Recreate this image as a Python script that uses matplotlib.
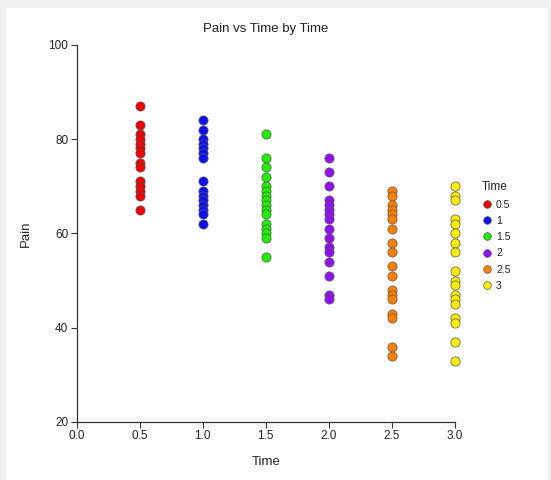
import matplotlib
matplotlib.use("Agg")
import matplotlib.pyplot as plt
from matplotlib.lines import Line2D
from matplotlib.patches import Rectangle

plt.rcParams['font.family'] = ['Liberation Sans', 'DejaVu Sans']

groups = ["0.5", "1", "1.5", "2", "2.5", "3"]
times = [0.5, 1.0, 1.5, 2.0, 2.5, 3.0]
colors = ["#ee0000", "#1010ee", "#22ee00", "#9010f0", "#ff8000", "#ffee00"]

pain_05 = [87, 83, 81, 80, 79, 78, 77, 75, 74, 71, 70, 69, 68, 65]
pain_10 = [84, 82, 80, 79, 78, 77, 76, 71, 69, 68, 67, 66, 65, 64, 62]
pain_15 = [81, 76, 74, 72, 70, 69, 68, 67, 66, 65, 64, 62, 61, 60, 59, 55]
pain_20 = [76, 73, 70, 67, 66, 65, 64, 63, 61, 59, 57, 56, 54, 51, 47, 46]
pain_25 = [69, 68, 66, 65, 64, 63, 61, 58, 56, 53, 51, 48, 47, 46, 43, 42, 36, 34]
pain_30 = [70, 68, 67, 63, 62, 60, 58, 56, 52, 50, 49, 47, 46, 45, 42, 41, 37, 33]
pain_series = [pain_05, pain_10, pain_15, pain_20, pain_25, pain_30]

fig = plt.figure(figsize=(5.51, 4.80), dpi=100)
fig.patch.set_facecolor("#f0f0f0")
bg = Rectangle((6/551, 0), 1 - 9/551, 1 - 8/480, transform=fig.transFigure,
               facecolor="white", edgecolor="none", zorder=-10)
fig.add_artist(bg)

ax = fig.add_axes([76.5/551, 1 - 422/480, (455 - 76.5)/551, (422 - 44.7)/480])
ax.set_zorder(2)
ax.set_facecolor("none")

for t, vals, c in zip(times, pain_series, colors):
    ax.scatter([t] * len(vals), vals, s=44, c=c, edgecolors="#555555",
               linewidths=0.5, zorder=3, clip_on=False)

ax.set_xlim(0, 3)
ax.set_ylim(20, 100)
ax.set_xticks([0, 0.5, 1.0, 1.5, 2.0, 2.5, 3.0])
ax.set_xticklabels(["0.0", "0.5", "1.0", "1.5", "2.0", "2.5", "3.0"])
ax.set_yticks([20, 40, 60, 80, 100])
for s in ["top", "right"]:
    ax.spines[s].set_visible(False)
for s in ["left", "bottom"]:
    ax.spines[s].set_color("#333333")
    ax.spines[s].set_linewidth(0.9)
ax.tick_params(direction="out", length=4, width=0.8, color="#333333",
               labelsize=8.5, labelcolor="#222222", pad=2)

ax.set_title("Pain vs Time by Time", fontsize=9.5, color="#222222", pad=9)
ax.set_xlabel("Time", fontsize=9.5, color="#222222", labelpad=10)
ax.set_ylabel("Pain", fontsize=9.5, color="#222222", labelpad=12)

handles = [Line2D([], [], marker="o", linestyle="none", markersize=5.5,
                  markerfacecolor=c, markeredgecolor="#555555", markeredgewidth=0.5)
           for c in colors]
leg = fig.legend(handles, groups, title="Time", loc="upper left",
                 bbox_to_anchor=(472/551, 1 - 172/480), frameon=False,
                 fontsize=7.5, title_fontsize=8.5, handletextpad=0.4,
                 handlelength=1.0, labelspacing=0.6, alignment="left")
leg.set_zorder(3)
leg.get_title().set_color("#222222")
for t in leg.get_texts():
    t.set_color("#222222")

fig.savefig("out.png", dpi=100, facecolor=fig.get_facecolor())
